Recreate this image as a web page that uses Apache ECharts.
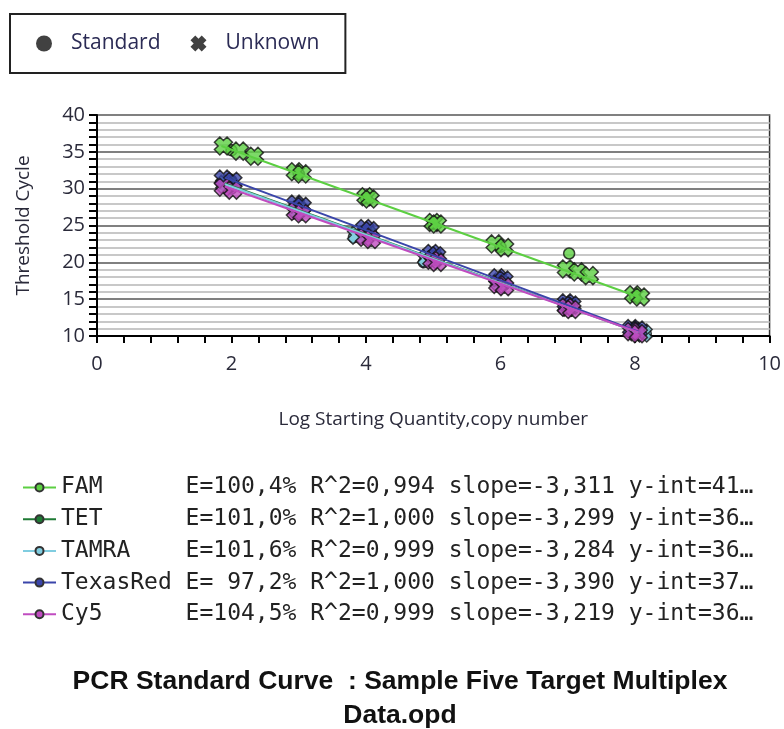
<!DOCTYPE html>
<html>
<head>
<meta charset="utf-8">
<script src="https://cdn.jsdelivr.net/npm/echarts@6.0.0/dist/echarts.min.js"></script>
<style>
html, body { margin: 0; padding: 0; background: #fff; }
#chart { width: 784px; height: 729px; }
</style>
</head>
<body>
<div id="chart"></div>
<script>
// Tintes y estadísticos de la leyenda inferior
const dyes = ['FAM', 'TET', 'TAMRA', 'TexasRed', 'Cy5'];
const dyeColors = ['#5ccf42', '#1f7a35', '#80cde0', '#3a45aa', '#c04cc0'];
const effText = ['E=100,4%', 'E=101,0%', 'E=101,6%', 'E= 97,2%', 'E=104,5%'];
const r2Text = ['R^2=0,994', 'R^2=1,000', 'R^2=0,999', 'R^2=1,000', 'R^2=0,999'];
const slopeText = ['slope=-3,311', 'slope=-3,299', 'slope=-3,284', 'slope=-3,390', 'slope=-3,219'];
const yintText = ['y-int=41…', 'y-int=36…', 'y-int=36…', 'y-int=37…', 'y-int=36…'];

// Rectas de regresión (extremos)
const famLine = [[1.85, 35.8], [8.05, 15.3]];
const tetLine = [[1.9, 30.7], [8.05, 10.5]];
const tamraLine = [[1.9, 30.6], [8.05, 10.5]];
const texasLine = [[1.9, 31.5], [8.05, 10.6]];
const cy5Line = [[1.9, 30.3], [8.05, 10.5]];

// Estándares (círculos)
const famStd = [[2.0, 35.2], [3.0, 32.0], [4.0, 28.7], [5.0, 25.3], [6.0, 22.1], [7.02, 21.2], [8.0, 15.4]];
const tetStd = [[2, 30.4], [3, 27.1], [4, 23.8], [5, 20.5], [6, 17.2], [7, 13.9], [8, 10.6]];
const tamraStd = [[2, 30.3], [3, 27.0], [3.82, 23.4], [4.86, 20.0], [6, 17.2], [7, 13.9], [8.16, 10.3]];
const texasStd = [[2, 31.1], [3, 27.7], [4, 24.3], [5, 20.9], [6, 17.6], [7, 14.2], [8, 10.8]];
const cy5Std = [[2, 30.0], [3, 26.8], [4, 23.5], [5, 20.3], [6, 17.1], [7, 13.9], [8, 10.6]];

// Desconocidos (cruces)
const famUnk = [[1.88, 35.8], [2.12, 35.1], [2.34, 34.4], [2.95, 32.3], [3.05, 32.0], [4.0, 28.9], [4.06, 28.6],
  [5.0, 25.4], [5.06, 25.2], [5.92, 22.5], [6.06, 22.0], [6.98, 19.1], [7.15, 18.7], [7.32, 18.2], [7.98, 15.6], [8.08, 15.3]];
const tetUnk = [[1.95, 30.7], [3.0, 27.2], [4.02, 23.9], [5.02, 20.5], [6.0, 17.2], [7.0, 13.9], [8.0, 10.6]];
const tamraUnk = [[1.9, 30.6], [2.98, 27.1], [3.86, 23.7], [4.9, 20.5], [5.98, 17.3], [6.98, 14.0], [8.12, 10.4]];
const texasUnk = [[1.88, 31.3], [2.02, 31.0], [2.95, 27.9], [3.05, 27.6], [3.98, 24.6], [4.06, 24.3], [4.98, 21.2],
  [5.05, 20.9], [5.96, 17.9], [6.05, 17.6], [6.98, 14.5], [7.06, 14.2], [7.95, 11.0], [8.05, 10.8]];
const cy5Unk = [[1.88, 30.2], [2.02, 29.8], [2.95, 26.9], [3.05, 26.6], [3.98, 23.4], [4.08, 23.1], [4.98, 20.3],
  [5.06, 20.0], [5.96, 17.0], [6.06, 16.7], [6.98, 13.9], [7.06, 13.6], [7.95, 10.6], [8.05, 10.3]];

const lines = [famLine, tetLine, tamraLine, texasLine, cy5Line];
const stds = [famStd, tetStd, tamraStd, texasStd, cy5Std];
const unks = [famUnk, tetUnk, tamraUnk, texasUnk, cy5Unk];

// Cruz gruesa para los desconocidos
const crossPath = 'path://M0,3 L3,0 L5,2 L7,0 L10,3 L8,5 L10,7 L7,10 L5,8 L3,10 L0,7 L2,5 Z';
const textColor = '#2a2a3a';

const series = [];
// Series vacías solo para la leyenda superior
series.push({ name: 'Standard', type: 'scatter', data: [], symbol: 'circle', itemStyle: { color: '#111' } });
series.push({ name: 'Unknown', type: 'scatter', data: [], symbol: crossPath, itemStyle: { color: '#111' } });

dyes.forEach((dye, i) => {
    series.push({
        name: dye,
        type: 'line',
        data: lines[i],
        showSymbol: false,
        symbol: 'circle',
        z: 5,
        itemStyle: { color: dyeColors[i], borderColor: '#333', borderWidth: 1 },
        lineStyle: { color: dyeColors[i], width: 2 }
    });
    series.push({
        name: dye + ' std',
        type: 'scatter',
        data: stds[i],
        symbol: 'circle',
        symbolSize: 11,
        z: 2,
        itemStyle: { color: dyeColors[i], borderColor: '#111', borderWidth: 1.5 }
    });
    series.push({
        name: dye + ' unk',
        type: 'scatter',
        data: unks[i],
        symbol: crossPath,
        symbolSize: 18,
        z: 3,
        itemStyle: { color: dyeColors[i], borderColor: '#111', borderWidth: 1.5 }
    });
});

const chart = echarts.init(document.getElementById('chart'));
chart.setOption({
    backgroundColor: '#fff',
    animation: false,
    title: {
        text: 'PCR Standard Curve  : Sample Five Target Multiplex\nData.opd',
        left: 400,
        top: 665,
        padding: 0,
        textAlign: 'center',
        textStyle: { fontFamily: 'Liberation Sans', fontWeight: 'bold', fontSize: 26.5, lineHeight: 34, color: '#111' }
    },
    legend: [
        {
            data: [{ name: 'Standard', icon: 'circle' }, { name: 'Unknown', icon: crossPath }],
            left: 10,
            top: 14,
            orient: 'horizontal',
            borderColor: '#222',
            borderWidth: 2,
            padding: [19, 26, 19, 26],
            itemWidth: 16,
            itemHeight: 16,
            itemGap: 30,
            selectedMode: false,
            textStyle: { fontFamily: 'Open Sans', fontSize: 21, color: '#2b2b55', padding: [0, 0, 0, 14] }
        },
        {
            data: dyes,
            left: 22,
            top: 476,
            padding: 0,
            orient: 'vertical',
            itemWidth: 33,
            itemHeight: 10,
            itemGap: 8.7,
            selectedMode: false,
            formatter: function (name) {
                const i = dyes.indexOf(name);
                return name.padEnd(9, ' ') + effText[i] + ' ' + r2Text[i] + ' ' + slopeText[i] + ' ' + yintText[i];
            },
            textStyle: { fontFamily: 'DejaVu Sans Mono', fontSize: 23, lineHeight: 22, color: '#222' }
        }
    ],
    grid: {
        left: 97,
        right: 11,
        top: 115,
        bottom: 393,
        show: true,
        borderColor: '#333',
        borderWidth: 1.5
    },
    xAxis: {
        type: 'value',
        min: 0,
        max: 10,
        interval: 2,
        name: 'Log Starting Quantity,copy number',
        nameLocation: 'middle',
        nameGap: 74,
        nameTextStyle: { fontFamily: 'Open Sans', fontSize: 19, color: textColor },
        axisLine: { show: true, onZero: false, lineStyle: { color: '#000', width: 2 } },
        axisTick: { show: true, length: 7, lineStyle: { color: '#000', width: 2 } },
        minorTick: { show: true, splitNumber: 5, length: 7, lineStyle: { color: '#000', width: 2 } },
        axisLabel: { fontFamily: 'Open Sans', fontSize: 20, color: textColor, margin: 18 },
        splitLine: { show: false }
    },
    yAxis: {
        type: 'value',
        min: 10,
        max: 40,
        interval: 5,
        name: 'Threshold Cycle',
        nameLocation: 'middle',
        nameRotate: 90,
        nameGap: 64,
        nameTextStyle: { fontFamily: 'Open Sans', fontSize: 19, color: textColor },
        axisLine: { show: true, onZero: false, lineStyle: { color: '#000', width: 2 } },
        axisTick: { show: true, length: 8, lineStyle: { color: '#000', width: 2 } },
        minorTick: { show: true, splitNumber: 5, length: 8, lineStyle: { color: '#000', width: 2 } },
        axisLabel: { fontFamily: 'Open Sans', fontSize: 20, color: textColor, margin: 12 },
        splitLine: { show: true, lineStyle: { color: '#808080', width: 2 } },
        minorSplitLine: { show: true, lineStyle: { color: '#c8c8c8', width: 2 } }
    },
    series: series
});
</script>
</body>
</html>
